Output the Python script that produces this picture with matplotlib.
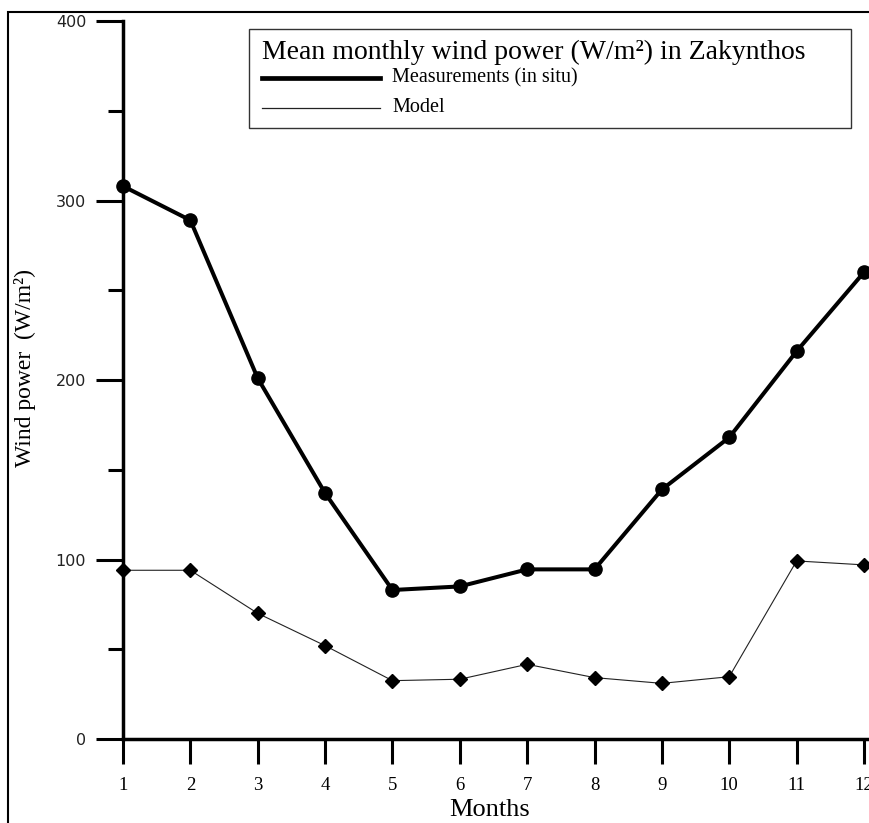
import matplotlib
matplotlib.use("Agg")
import matplotlib.pyplot as plt
from matplotlib.lines import Line2D
from matplotlib.patches import Rectangle
from matplotlib.ticker import MultipleLocator

months = [1, 2, 3, 4, 5, 6, 7, 8, 9, 10, 11, 12]
measurements = [308, 289, 201, 137, 83, 85, 94.5, 94.5, 139, 168, 216, 260]
model = [94, 94, 70, 52, 32.5, 33.3, 41.6, 34.2, 31, 34.7, 99.2, 97]
yticks = [0, 100, 200, 300, 400]
title_text = "Mean monthly wind power (W/m²) in Zakynthos"
label_meas = "Measurements (in situ)"
label_model = "Model"
xlabel = "Months"
ylabel = "Wind power  (W/m²)"

W, H = 870, 823
fig = plt.figure(figsize=(W / 100, H / 100), dpi=100)
serif = ["Liberation Serif", "DejaVu Serif"]


def px(x, y):
    return x / W, 1 - y / H


ax = fig.add_axes([123 / W, (H - 739) / H, 747.7 / W, 718 / H])
ax.set_xlim(1, 12.1)
ax.set_ylim(0, 400)

ax.plot(months, measurements, color="black", lw=2.9, marker="o", ms=9.5,
        clip_on=False, zorder=4)
ax.plot(months, model, color="#222222", lw=0.8, marker="D", ms=7,
        markerfacecolor="black", markeredgecolor="black",
        clip_on=False, zorder=3)

for s in ["top", "right"]:
    ax.spines[s].set_visible(False)
for s in ["left", "bottom"]:
    ax.spines[s].set_linewidth(2.5)
    ax.spines[s].set_color("black")

ax.set_xticks(months)
ax.set_yticks(yticks)
ax.yaxis.set_minor_locator(MultipleLocator(50))
ax.tick_params(axis="y", which="major", length=19.5, width=2.2, direction="out",
               pad=7, labelsize=11.5, labelcolor="#222222")
ax.tick_params(axis="y", which="minor", length=11, width=2.2, direction="out")
ax.tick_params(axis="x", which="major", length=18, width=2.2, direction="out",
               pad=9)
for lab in ax.get_xticklabels():
    lab.set_fontfamily(serif)
    lab.set_fontsize(13.5)
for lab in ax.get_yticklabels():
    lab.set_fontfamily(["DejaVu Sans"])

ax.set_xlabel(xlabel, fontfamily=serif, fontsize=19)
ax.xaxis.set_label_coords((490 - 123) / 747.7, -60 / 718)
ax.xaxis.label.set_verticalalignment("top")
fig.text(*px(25, 368), ylabel, rotation=90, ha="center", va="center",
         fontfamily=serif, fontsize=17)

# Legend box
x0, y0, x1, y1 = 249, 29, 851, 128
fig.add_artist(Rectangle(px(x0, y1), (x1 - x0) / W, (y1 - y0) / H,
                         transform=fig.transFigure, fill=True, facecolor="white",
                         edgecolor="#333333", lw=1.0, zorder=5))
fig.text(*px(262, 59), title_text, ha="left", va="baseline",
         fontfamily=serif, fontsize=20, zorder=6)
fig.add_artist(Line2D([262 / W, 380 / W], [1 - 78 / H, 1 - 78 / H],
                      transform=fig.transFigure, color="black", lw=3.4, zorder=6))
fig.add_artist(Line2D([262 / W, 380 / W], [1 - 108 / H, 1 - 108 / H],
                      transform=fig.transFigure, color="#222222", lw=0.9, zorder=6))
fig.text(*px(392, 78), label_meas, ha="left", va="center",
         fontfamily=serif, fontsize=14.5, zorder=6)
fig.text(*px(392, 107), label_model, ha="left", va="center",
         fontfamily=serif, fontsize=14.5, zorder=6)

# Outer frame (right and bottom edges fall outside the image)
fig.add_artist(Rectangle((8 / W, -0.05), 1.1, 1 - 12 / H + 0.05,
                         transform=fig.transFigure, fill=False,
                         edgecolor="black", lw=1.5, zorder=0))

fig.savefig("out.png", dpi=100)
